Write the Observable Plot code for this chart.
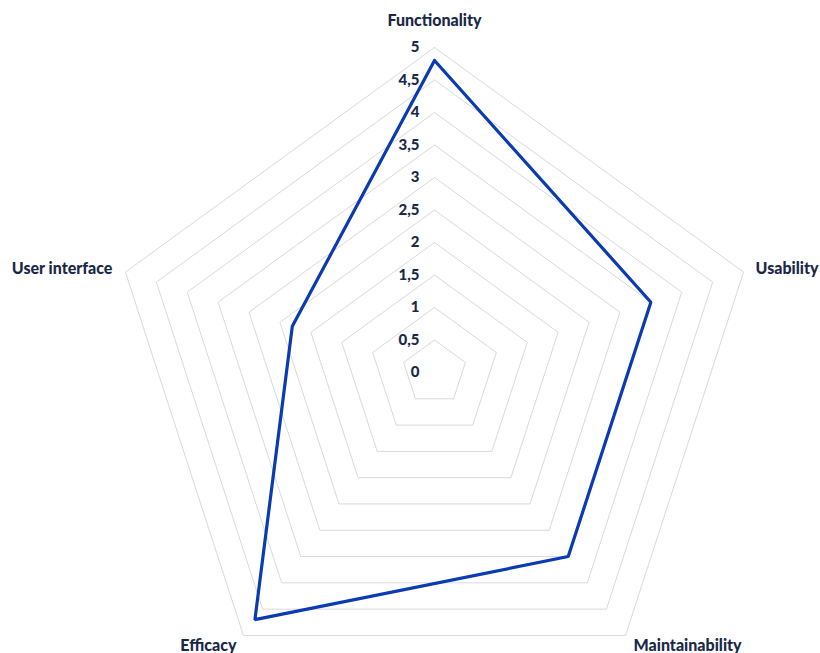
<!DOCTYPE html>
<html>
<head>
<meta charset="utf-8">
<script src="https://cdn.jsdelivr.net/npm/d3@7"></script>
<script src="https://cdn.jsdelivr.net/npm/@observablehq/plot@0.6"></script>
<style>
  html, body { margin: 0; padding: 0; background: #fff; }
  #chart svg { display: block; }
</style>
</head>
<body>
<div id="chart"></div>
<script>
const categories = ["Functionality", "Usability", "Maintainability", "Efficacy", "User interface"];
const values = [4.8, 3.5, 3.5, 4.7, 2.3];
const tickValues = [0, 0.5, 1, 1.5, 2, 2.5, 3, 3.5, 4, 4.5, 5];
const tickLabels = ["0", "0,5", "1", "1,5", "2", "2,5", "3", "3,5", "4", "4,5", "5"];
const gridLevels = [0.5, 1, 1.5, 2, 2.5, 3, 3.5, 4, 4.5, 5];

const n = categories.length;
const angle = i => (2 * Math.PI * i) / n;
const px = (i, r) => r * Math.sin(angle(i));
const py = (i, r) => r * Math.cos(angle(i));

const gridData = gridLevels.flatMap(level =>
  d3.range(n + 1).map(k => ({level, i: k % n}))
);
const seriesData = d3.range(n + 1).map(k => ({i: k % n, v: values[k % n]}));
const labelData = categories.map((c, i) => ({c, i}));
const tickData = tickValues.map((v, k) => ({v, label: tickLabels[k]}));

const unit = 65, cx = 434, cy = 372, W = 820, H = 653;
const navy = "#1a2848";
const font = "Lato, 'Open Sans', sans-serif";

const labelStyle = [
  {dx: 0, dy: -27, anchor: "middle"},
  {dx: 12, dy: -3, anchor: "start"},
  {dx: 8, dy: 10, anchor: "start"},
  {dx: -7, dy: 10, anchor: "end"},
  {dx: -13, dy: -3, anchor: "end"}
];

const chart = Plot.plot({
  width: W,
  height: H,
  margin: 0,
  x: {domain: [-cx / unit, (W - cx) / unit], range: [0, W], axis: null},
  y: {domain: [-(H - cy) / unit, cy / unit], range: [H, 0], axis: null},
  style: {fontFamily: font, background: "#fff"},
  marks: [
    Plot.line(gridData, {
      x: d => px(d.i, d.level),
      y: d => py(d.i, d.level),
      z: "level",
      stroke: "#d9d9de",
      strokeWidth: 1
    }),
    Plot.line(seriesData, {
      x: d => px(d.i, d.v),
      y: d => py(d.i, d.v),
      stroke: "#0b3bb2",
      strokeWidth: 3.2,
      strokeLinejoin: "miter"
    }),
    Plot.text(tickData, {
      x: d => 0,
      y: d => d.v,
      text: "label",
      dx: -15,
      textAnchor: "end",
      fontSize: 15,
      fontWeight: 900,
      fill: navy
    }),
    ...labelData.map(d => Plot.text([d], {
      x: e => px(e.i, 5),
      y: e => py(e.i, 5),
      text: "c",
      dx: labelStyle[d.i].dx,
      dy: labelStyle[d.i].dy,
      textAnchor: labelStyle[d.i].anchor,
      fontSize: 16,
      fontWeight: 900,
      fill: navy
    }))
  ]
});
document.getElementById("chart").append(chart);
</script>
</body>
</html>
